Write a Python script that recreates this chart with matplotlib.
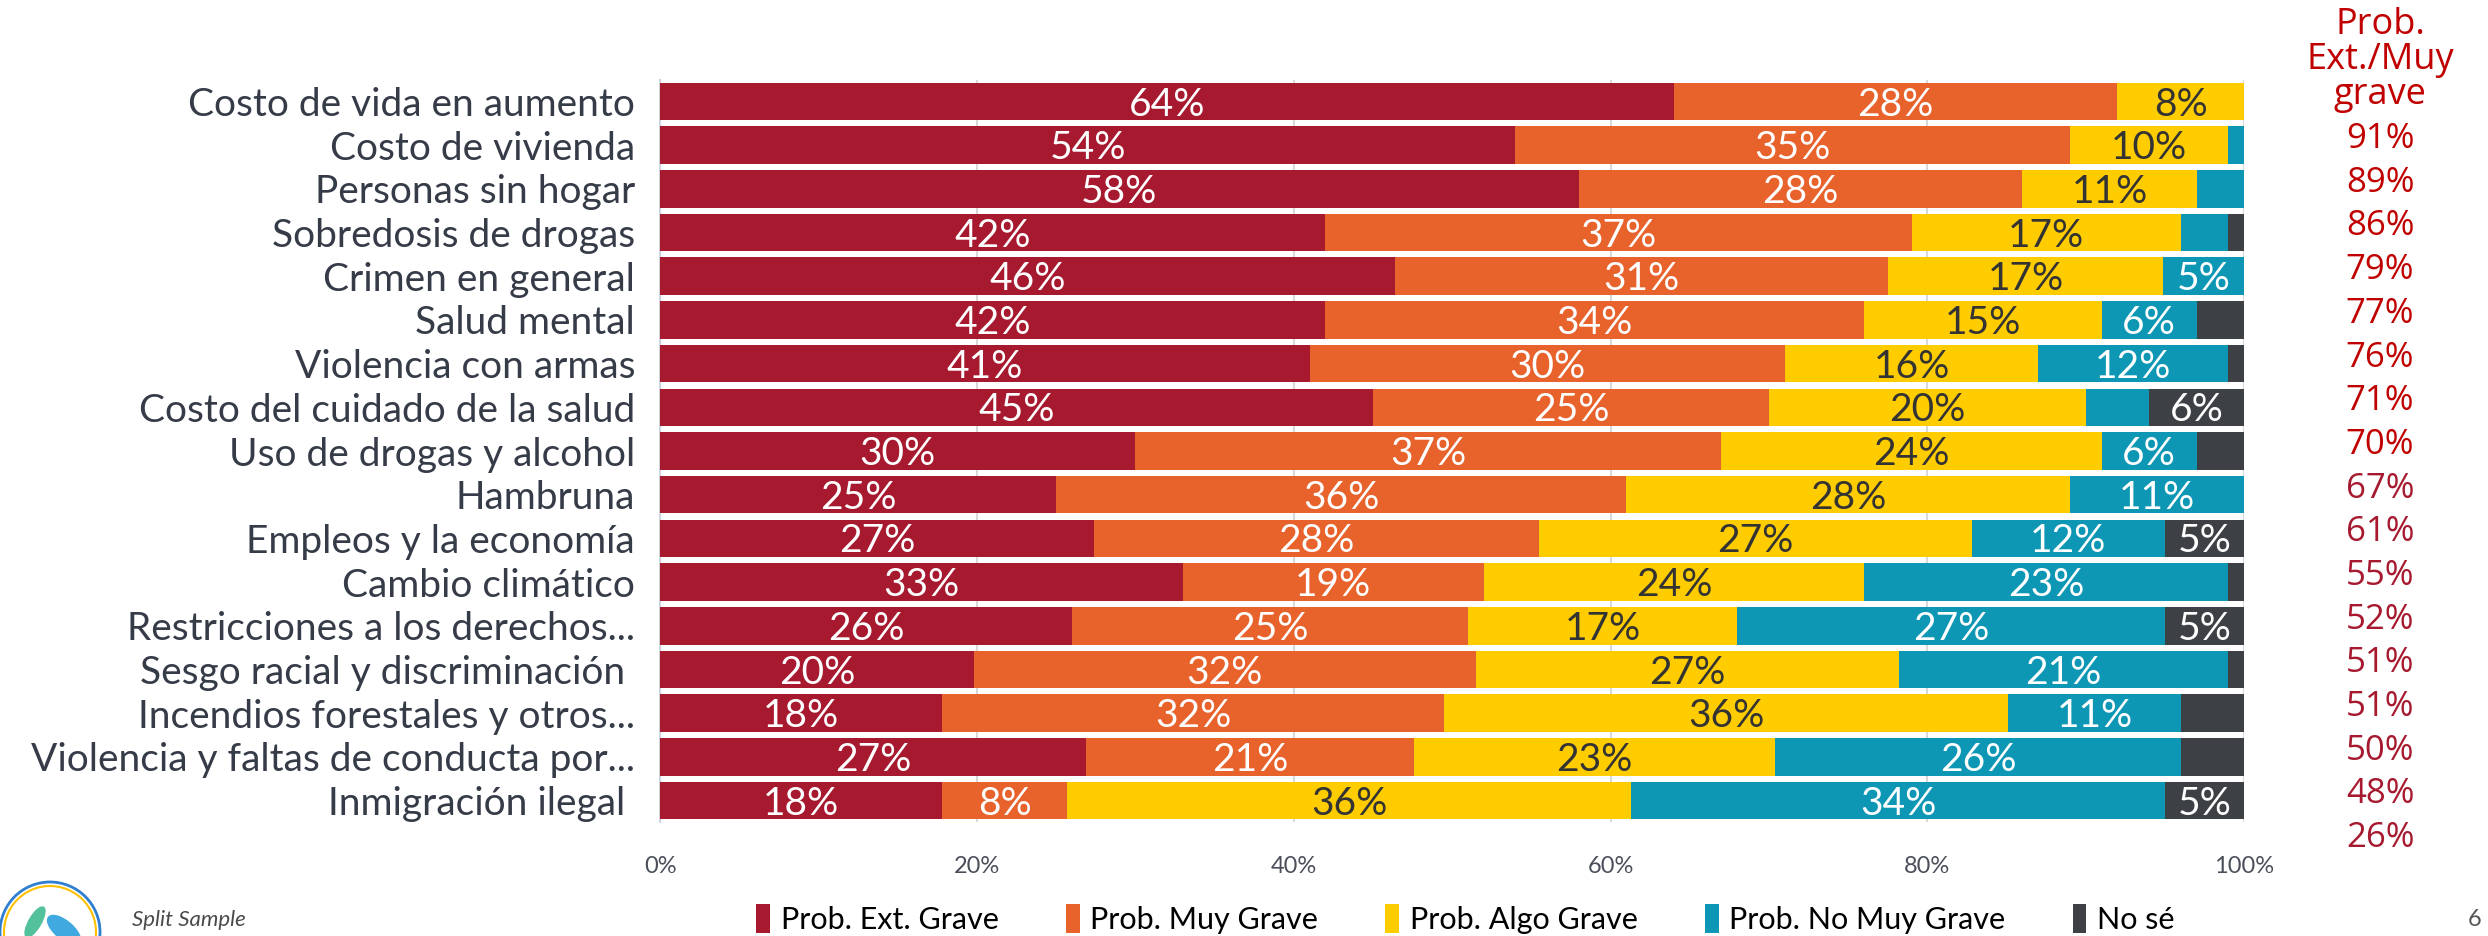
import matplotlib
matplotlib.use("Agg")
import matplotlib.pyplot as plt
import matplotlib.transforms as mtransforms
from matplotlib.patches import Circle, Ellipse, Patch
import numpy as np

categories = [
    "Costo de vida en aumento", "Costo de vivienda", "Personas sin hogar",
    "Sobredosis de drogas", "Crimen en general", "Salud mental",
    "Violencia con armas", "Costo del cuidado de la salud",
    "Uso de drogas y alcohol", "Hambruna", "Empleos y la economía",
    "Cambio climático", "Restricciones a los derechos...",
    "Sesgo racial y discriminación ", "Incendios forestales y otros...",
    "Violencia y faltas de conducta por...", "Inmigración ilegal ",
]
ext_grave = [64, 54, 58, 42, 46.4, 42, 41, 45, 30, 25, 27.4, 33, 26, 19.8, 17.8, 26.9, 17.8]
muy_grave = [28, 35, 28, 37, 31.1, 34, 30, 25, 37, 36, 28.1, 19, 25, 31.7, 31.7, 20.7, 7.9]
algo_grave = [8, 10, 11, 17, 17.4, 15, 16, 20, 24, 28, 27.3, 24, 17, 26.7, 35.6, 22.8, 35.6]
no_muy_grave = [0, 1, 3, 3, 5.1, 6, 12, 4, 6, 11, 12.2, 23, 27, 20.8, 10.9, 25.6, 33.7]
no_se = [0, 0, 0, 1, 0, 3, 1, 6, 3, 0, 5.0, 1, 5, 1, 4, 4, 5]
series_names = ["Prob. Ext. Grave", "Prob. Muy Grave", "Prob. Algo Grave",
                "Prob. No Muy Grave", "No sé"]
right_header = "Prob.\nExt./Muy\ngrave"
right_values = [91, 89, 86, 79, 77, 76, 71, 70, 67, 61, 55, 52, 51, 51, 50, 48, 26]
x_ticks = [0, 20, 40, 60, 80, 100]
x_tick_labels = ["0%", "20%", "40%", "60%", "80%", "100%"]

colors = ["#A6192E", "#E8622C", "#FFCC00", "#0E97B5", "#3D4145"]
label_colors = ["white", "white", "#333333", "white", "white"]

FONT = ["Lato", "DejaVu Sans"]
RFONT = ["Open Sans", "DejaVu Sans"]
plt.rcParams["font.family"] = FONT

fig = plt.figure(figsize=(24.88, 9.36), dpi=100)
ax = fig.add_axes([0.2653, 0.1214, 0.6367, 0.7935])

series = [ext_grave, muy_grave, algo_grave, no_muy_grave, no_se]
y = np.arange(len(categories))
left = np.zeros(len(categories))
for vals, col, lcol in zip(series, colors, label_colors):
    vals = np.array(vals, dtype=float)
    ax.barh(y, vals, left=left, height=0.86, color=col, zorder=3)
    for yi, (l, v) in enumerate(zip(left, vals)):
        if v >= 4.5:
            ax.text(l + v / 2, yi + 0.07, f"{int(round(v))}%", ha="center", va="center",
                    color=lcol, fontsize=28, zorder=4)
    left += vals

ax.set_xlim(0, 100)
ax.set_ylim(len(categories) - 0.5, -0.5)
ax.set_yticks(y)
ax.set_yticklabels(categories, fontsize=28, color="#363B48")
ax.set_xticks(x_ticks)
ax.set_xticklabels(x_tick_labels, fontsize=17, color="#4A4F5A")
ax.tick_params(axis="both", length=0)
ax.tick_params(axis="y", pad=18)
ax.tick_params(axis="x", pad=24)
ax.grid(axis="x", color="#D9D9D9", lw=1.5, zorder=0)
for s in ["top", "bottom", "right"]:
    ax.spines[s].set_visible(False)
ax.spines["left"].set_color("#D0D5DD")
ax.spines["left"].set_linewidth(1.5)

# Right column
trans = mtransforms.blended_transform_factory(fig.transFigure, ax.transData)
ax.text(0.9566, -0.95, right_header, transform=trans, ha="center", va="center",
        fontsize=26, color="#C00000", family=RFONT,
        linespacing=0.95, clip_on=False)
for i, v in enumerate(right_values):
    col = "#C00000" if i < 8 else "#A6192E"
    ax.text(0.9566, i + 0.86, f"{v}%", transform=trans, ha="center", va="center",
            fontsize=25, color=col, family=RFONT, clip_on=False)

# Legend
handles = [Patch(facecolor=c, edgecolor="none") for c in colors]
fig.legend(handles, series_names, loc="center", bbox_to_anchor=(0.589, 0.018),
           ncol=5, frameon=False, handlelength=0.45, handleheight=1.1,
           handletextpad=0.35, columnspacing=2.2,
           prop={"family": FONT, "size": 22})

# Logo and footer
ov = fig.add_axes([0, 0, 1, 1], zorder=-1)
ov.set_xlim(0, 2488)
ov.set_ylim(936, 0)
ov.axis("off")
ov.add_patch(Circle((50, 932), 50, fill=False, ec="#2F7FD0", lw=2))
ov.add_patch(Circle((50, 932), 46, fill=False, ec="#FFC000", lw=1.5))
ov.add_patch(Ellipse((35, 922), 12, 34, angle=30, color="#52C19C"))
ov.add_patch(Ellipse((64, 930), 18, 40, angle=-50, color="#3FA9E0"))
ov.text(132, 910, "Split Sample", fontsize=16, style="italic", color="#4A4A4A",
        va="top", ha="left")
ov.text(2475, 920, "6", fontsize=17, color="#555555", va="center", ha="center")

fig.savefig("out.png", dpi=100)
